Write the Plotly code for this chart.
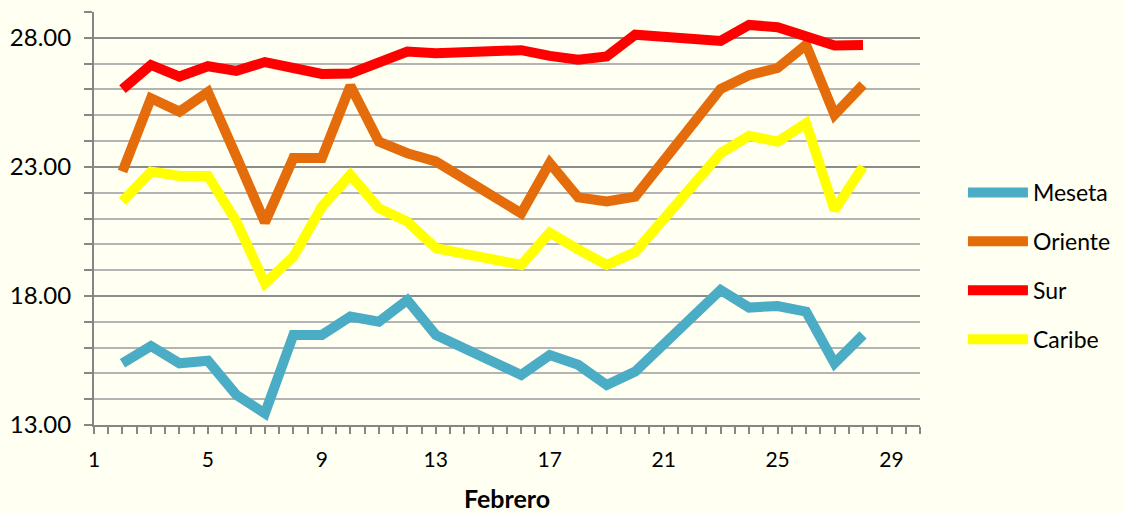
import plotly.graph_objects as go

days = list(range(2, 29))
meseta = [15.39, 16.06, 15.39, 15.49, 14.16, 13.45, 16.49, 16.49, 17.2, 17.0, 17.84, 16.49,
          None, None, 14.94, 15.71, 15.33, 14.55, 15.07, None, None, 18.23, 17.55, 17.61, 17.39, 15.39, 16.49]
oriente = [22.82, 25.66, 25.14, 25.9, 23.4, 20.85, 23.34, 23.34, 26.14, 23.98, 23.53, 23.21,
           None, None, 21.2, 23.15, 21.82, 21.66, 21.85, None, None, 26.02, 26.55, 26.83, 27.73, 25.02, 26.18]
sur = [26.01, 26.95, 26.5, 26.9, 26.72, 27.06, 26.83, 26.6, 26.62, 27.08, 27.47, 27.4,
       None, None, 27.52, 27.3, 27.15, 27.28, 28.12, None, None, 27.88, 28.5, 28.41, 28.03, 27.7, 27.72]
caribe = [21.66, 22.82, 22.65, 22.65, 20.88, 18.49, 19.52, 21.46, 22.69, 21.4, 20.88, 19.85,
          None, None, 19.2, 20.45, 19.8, 19.2, 19.7, None, None, 23.53, 24.2, 23.98, 24.69, 21.33, 23.01]

series = [("Meseta", meseta, "#4BACC6"), ("Oriente", oriente, "#E46C0A"),
          ("Sur", sur, "#FF0000"), ("Caribe", caribe, "#FFFF00")]

fig = go.Figure()
for name, vals, col in series:
    fig.add_trace(go.Scatter(x=days, y=vals, name=name, mode="lines", connectgaps=True,
                             legendgroup=name,
                             line=dict(color=col, width=10)))

bg = "#FFFFF2"
fig.update_layout(
    width=1123, height=514,
    margin=dict(l=94, r=203, t=12, b=89, autoexpand=False),
    paper_bgcolor=bg, plot_bgcolor=bg,
    font=dict(family="Lato", size=22, color="#000000"),
    legend=dict(x=1.052, xanchor="left", y=0.385, yanchor="middle",
                font=dict(size=23), tracegroupgap=16, itemwidth=60,
                bgcolor="rgba(0,0,0,0)"),
    xaxis=dict(range=[1, 30], tickmode="linear", tick0=1, dtick=4, automargin=False,
               ticks="outside", ticklen=7, tickcolor="#868686", tickwidth=1.5,
               ticklabelstandoff=8, tickfont=dict(size=21),
               showline=True, linecolor="#868686", linewidth=2,
               showgrid=False, zeroline=False,
               minor=dict(dtick=0.5, tick0=1, ticks="outside", ticklen=7,
                          tickcolor="#868686", tickwidth=1.5, showgrid=False),
               title=dict(text="<b>Febrero</b>", font=dict(size=25), standoff=20)),
    yaxis=dict(range=[13, 29], tickmode="linear", tick0=13, dtick=5, tickformat=".2f",
               automargin=False,
               ticks="outside", ticklen=8, tickcolor="#868686", tickwidth=1.5,
               ticklabelstandoff=8, tickfont=dict(size=24),
               showline=True, linecolor="#868686", linewidth=2,
               showgrid=True, gridcolor="#8C8C8C", gridwidth=2, zeroline=False,
               minor=dict(dtick=1, tick0=13, ticks="outside", ticklen=8,
                          tickcolor="#868686", tickwidth=1.5,
                          showgrid=True, gridcolor="#B4B4B4", gridwidth=2)),
)

fig.write_html("out.html", config={"displayModeBar": False},
               post_script="document.body.style.margin='0';document.body.style.background='#FFFFF2';")
